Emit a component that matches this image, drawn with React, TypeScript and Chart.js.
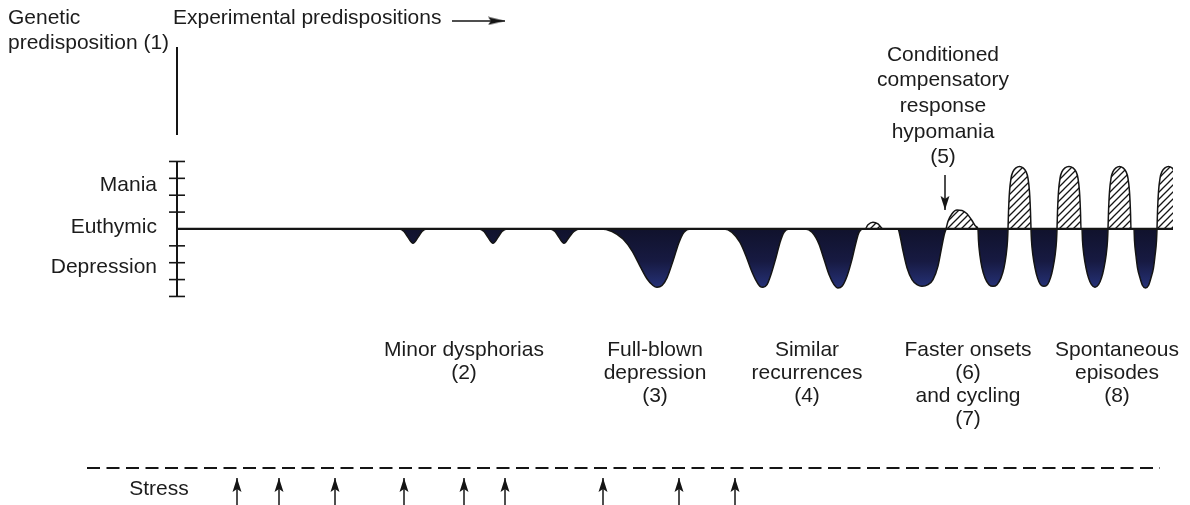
import React, { useEffect, useRef } from 'react';
import { Chart, registerables } from 'chart.js';

Chart.register(...registerables);

// Mood course over time (x: time units, y: mood level; + mania, - depression)
const moodTime = [
  0,
  22.2, 22.7, 23.1, 23.6, 24.1, 24.5, 25.0,
  30.1, 30.7, 31.1, 31.6, 32.1, 32.5, 33.1,
  37.2, 37.8, 38.2, 38.7, 39.2, 39.7, 40.3,
  42.3, 43.5, 44.6, 45.5, 46.3, 47.0, 47.6, 48.0, 48.5, 49.0, 49.6, 50.2, 50.7, 51.3,
  54.7, 55.5, 56.3, 56.9, 57.4, 57.9, 58.3, 58.6, 59.0, 59.4, 59.9, 60.3, 60.7, 61.2,
  62.8, 63.5, 64.2, 64.7, 65.2, 65.7, 66.1, 66.5, 67.0, 67.5, 67.9, 68.2, 68.6,
  68.8, 69.1, 69.6, 70.1, 70.6,
  72.1, 72.3, 72.6, 73.0, 73.5, 74.0, 74.5, 75.1, 75.6, 76.1, 76.4, 76.7, 76.9,
  77.1, 77.5, 78.0, 78.5, 79.0, 79.5, 79.9, 80.1,
  80.15, 80.3, 80.5, 80.8, 81.2, 81.6, 82.0, 82.4, 82.7, 82.9, 83.05, 83.1,
  83.15, 83.25, 83.4, 83.6, 83.9, 84.25, 84.6, 84.9, 85.1, 85.25, 85.35, 85.4,
  85.45, 85.6, 85.8, 86.05, 86.35, 86.7, 87.05, 87.35, 87.6, 87.8, 87.95, 88.0,
  88.05, 88.15, 88.3, 88.5, 88.8, 89.2, 89.6, 89.9, 90.1, 90.25, 90.35, 90.4,
  90.5, 90.55, 90.7, 90.9, 91.15, 91.45, 91.8, 92.15, 92.45, 92.7, 92.9, 93.05, 93.1,
  93.15, 93.25, 93.4, 93.6, 93.9, 94.25, 94.6, 94.9, 95.1, 95.25, 95.35, 95.4,
  95.7, 95.75, 95.9, 96.05, 96.3, 96.55, 96.85, 97.15, 97.4, 97.65, 97.8, 97.95, 98.0,
  98.05, 98.15, 98.3, 98.5, 98.8, 99.15, 99.5, 99.8, 100.0, 100.15, 100.25, 100.3,
];
const moodLevel = [
  0,
  0, -0.15, -0.5, -0.85, -0.5, -0.15, 0,
  0, -0.15, -0.5, -0.85, -0.5, -0.15, 0,
  0, -0.15, -0.5, -0.85, -0.5, -0.15, 0,
  0, -0.15, -0.6, -1.3, -2.2, -2.95, -3.35, -3.45, -3.35, -2.9, -1.9, -0.8, -0.2, 0,
  0, -0.2, -0.8, -1.6, -2.4, -3.05, -3.4, -3.45, -3.3, -2.7, -1.7, -0.8, -0.2, 0,
  0, -0.2, -0.9, -1.8, -2.7, -3.3, -3.5, -3.4, -2.8, -1.8, -0.8, -0.2, 0,
  0, 0.25, 0.4, 0.3, 0,
  0, -0.4, -1.3, -2.3, -3.0, -3.3, -3.4, -3.3, -3.0, -2.2, -1.3, -0.4, 0,
  0.45, 0.9, 1.12, 1.1, 0.9, 0.5, 0.15, 0,
  -0.7, -1.6, -2.3, -2.9, -3.3, -3.4, -3.3, -2.9, -2.3, -1.6, -0.7, 0,
  1.0, 2.2, 3.0, 3.4, 3.62, 3.7, 3.62, 3.4, 3.0, 2.2, 1.0, 0,
  -0.7, -1.6, -2.3, -2.9, -3.3, -3.4, -3.3, -2.9, -2.3, -1.6, -0.7, 0,
  1.0, 2.2, 3.0, 3.4, 3.62, 3.7, 3.62, 3.4, 3.0, 2.2, 1.0, 0,
  0, -0.7, -1.6, -2.3, -2.9, -3.3, -3.45, -3.3, -2.9, -2.3, -1.6, -0.7, 0,
  1.0, 2.2, 3.0, 3.4, 3.62, 3.7, 3.62, 3.4, 3.0, 2.2, 1.0, 0,
  0, -0.7, -1.6, -2.3, -2.9, -3.35, -3.5, -3.35, -2.9, -2.3, -1.6, -0.7, 0,
  1.0, 2.2, 3.0, 3.4, 3.62, 3.7, 3.62, 3.4, 3.0, 2.2, 1.0, 0,
];

const axisTicks = [-4, -3, -2, -1, 1, 2, 3, 4];
const axisRange = [-4, 4];
const upperAxisRange = [5.57, 10.79];
const timeEnd = 99.6;

const stressTimes = [6.0, 10.2, 15.8, 22.7, 28.7, 32.8, 42.6, 50.2, 55.8];
const stressLevel = -14.16;
const stressArrowTip = -14.76;
const stressArrowBase = -16.5;
const stressLineRange = [-9.0, 98.3];

const experimentalArrow = { from: 27.5, to: 32.8, level: 12.33 };
const hypomaniaArrow = { time: 76.8, from: 3.2, to: 1.13 };

const scaleLimits = { xMin: 0, xMax: timeEnd, yMin: -16.36, yMax: 13.57 };

const textBlocks = [
  { lines: ['Genetic', 'predisposition (1)'], x: -16.9, y: 12.5, align: 'left', step: 1.48 },
  { lines: ['Experimental predispositions'], x: -0.4, y: 12.5, align: 'left', step: 1.48 },
  { lines: ['Conditioned', 'compensatory', 'response', 'hypomania', '(5)'], x: 76.6, y: 10.31, align: 'center', step: 1.52 },
  { lines: ['Mania'], x: -2.0, y: 2.61, align: 'right', step: 1 },
  { lines: ['Euthymic'], x: -2.0, y: 0.12, align: 'right', step: 1 },
  { lines: ['Depression'], x: -2.0, y: -2.25, align: 'right', step: 1 },
  { lines: ['Minor dysphorias', '(2)'], x: 28.7, y: -7.17, align: 'center', step: 1.37 },
  { lines: ['Full-blown', 'depression', '(3)'], x: 47.8, y: -7.17, align: 'center', step: 1.37 },
  { lines: ['Similar', 'recurrences', '(4)'], x: 63.0, y: -7.17, align: 'center', step: 1.37 },
  { lines: ['Faster onsets', '(6)', 'and cycling', '(7)'], x: 79.1, y: -7.17, align: 'center', step: 1.37 },
  { lines: ['Spontaneous', 'episodes', '(8)'], x: 94.0, y: -7.17, align: 'center', step: 1.37 },
  { lines: ['Stress'], x: -1.8, y: -15.4, align: 'center', step: 1 },
];

const INK = '#151515';
const DEPRESSION_FILL = '#171a42';
const DEPRESSION_TOP = '#10122c';
const DEPRESSION_DEEP = '#263278';
const FONT = '21px "Liberation Sans", Arial, Helvetica, sans-serif';

function makeHatch(ctx: CanvasRenderingContext2D) {
  const s = 7;
  const pc = document.createElement('canvas');
  pc.width = s;
  pc.height = s;
  const g = pc.getContext('2d')!;
  g.fillStyle = '#ffffff';
  g.fillRect(0, 0, s, s);
  g.strokeStyle = INK;
  g.lineWidth = 1.3;
  g.beginPath();
  g.moveTo(-1, s + 1);
  g.lineTo(s + 1, -1);
  g.moveTo(-1, 1);
  g.lineTo(1, -1);
  g.moveTo(s - 1, s + 1);
  g.lineTo(s + 1, s - 1);
  g.stroke();
  return ctx.createPattern(pc, 'repeat')!;
}

function makeArrowHead(w: number, len: number) {
  const c = document.createElement('canvas');
  c.width = w;
  c.height = len * 2;
  const a = c.getContext('2d')!;
  a.fillStyle = INK;
  a.beginPath();
  a.moveTo(w / 2, len);
  a.lineTo(w - 0.5, len * 2);
  a.lineTo(w / 2, len * 2 - 3);
  a.lineTo(0.5, len * 2);
  a.closePath();
  a.fill();
  return c;
}

const overlayPlugin = {
  id: 'overlay',
  afterDatasetsDraw(chart: any) {
    const { ctx, scales } = chart;
    const xs = scales.x;
    const ys = scales.y;
    ctx.save();
    ctx.strokeStyle = INK;
    ctx.lineWidth = 1.6;
    const x0 = xs.getPixelForValue(0);
    axisTicks.forEach((v) => {
      const py = ys.getPixelForValue(v);
      ctx.beginPath();
      ctx.moveTo(x0 - 8, py);
      ctx.lineTo(x0 + 8, py);
      ctx.stroke();
    });
    ctx.fillStyle = '#1c1c1c';
    ctx.font = FONT;
    ctx.textBaseline = 'middle';
    textBlocks.forEach((b) => {
      ctx.textAlign = b.align;
      b.lines.forEach((ln, i) => {
        ctx.fillText(ln, xs.getPixelForValue(b.x), ys.getPixelForValue(b.y - i * b.step));
      });
    });
    ctx.restore();
  },
};

export default function App() {
  const ref = useRef<HTMLCanvasElement | null>(null);

  useEffect(() => {
    const canvas = ref.current!;
    const ctx = canvas.getContext('2d')!;
    const hatch = makeHatch(ctx);
    const head = makeArrowHead(10, 14);
    const longHead = makeArrowHead(9, 17);

    const moodFill = (c: any) => {
      const chart = c.chart;
      const ys = chart.scales && chart.scales.y;
      if (!chart.chartArea || !ys) return { target: 'origin', above: hatch, below: DEPRESSION_FILL };
      const top = ys.getPixelForValue(0);
      const deep = ys.getPixelForValue(-3.5);
      const g = chart.ctx.createLinearGradient(0, top, 0, deep);
      g.addColorStop(0, DEPRESSION_TOP);
      g.addColorStop(0.55, DEPRESSION_FILL);
      g.addColorStop(1, DEPRESSION_DEEP);
      return { target: 'origin', above: hatch, below: g };
    };

    const segment = (pts: { x: number; y: number }[], extra: any = {}) => ({
      data: pts,
      borderColor: INK,
      borderWidth: 1.6,
      pointRadius: 0,
      fill: false,
      clip: false,
      order: 1,
      ...extra,
    });

    const arrow = (pts: { x: number; y: number }[], rotation: number, style: HTMLCanvasElement) =>
      segment(pts, {
        pointRadius: [0, 5],
        pointBorderWidth: 0,
        pointStyle: style,
        pointRotation: rotation,
        borderWidth: 1.5,
      });

    const datasets: any[] = [
      // baseline (euthymic)
      segment([{ x: 0, y: 0 }, { x: timeEnd, y: 0 }], { borderWidth: 2.2, order: -1, clip: true }),
      // mood course
      {
        data: moodTime.map((t, i) => ({ x: t, y: moodLevel[i] })),
        borderColor: INK,
        borderWidth: 1.5,
        pointRadius: 0,
        cubicInterpolationMode: 'monotone',
        fill: moodFill,
        backgroundColor: DEPRESSION_FILL,
        order: 2,
      },
      // mood axis
      segment([{ x: 0, y: axisRange[0] }, { x: 0, y: axisRange[1] }], { borderWidth: 2 }),
      segment([{ x: 0, y: upperAxisRange[0] }, { x: 0, y: upperAxisRange[1] }], { borderWidth: 2 }),
      // stress line
      segment([{ x: stressLineRange[0], y: stressLevel }, { x: stressLineRange[1], y: stressLevel }], {
        borderDash: [13, 6.5],
        borderWidth: 2,
      }),
      // arrows
      arrow([{ x: experimentalArrow.from, y: experimentalArrow.level }, { x: experimentalArrow.to, y: experimentalArrow.level }], 90, longHead),
      arrow([{ x: hypomaniaArrow.time, y: hypomaniaArrow.from }, { x: hypomaniaArrow.time, y: hypomaniaArrow.to }], 180, head),
      ...stressTimes.map((t) => arrow([{ x: t, y: stressArrowBase }, { x: t, y: stressArrowTip }], 0, head)),
    ];

    const chart = new Chart(canvas, {
      type: 'line',
      data: { datasets },
      options: {
        animation: false,
        responsive: true,
        maintainAspectRatio: false,
        events: [],
        layout: { autoPadding: false, padding: { left: 177, right: 17, top: 0, bottom: 0 } },
        scales: {
          x: { type: 'linear', min: scaleLimits.xMin, max: scaleLimits.xMax, display: false },
          y: { type: 'linear', min: scaleLimits.yMin, max: scaleLimits.yMax, display: false },
        },
        plugins: { legend: { display: false }, tooltip: { enabled: false } },
      } as any,
      plugins: [overlayPlugin],
    });
    chart.update();
    return () => chart.destroy();
  }, []);

  return (
    <div style={{ position: 'absolute', left: 0, top: 0, width: 1190, height: 505, background: '#fff' }}>
      <canvas ref={ref} />
    </div>
  );
}
